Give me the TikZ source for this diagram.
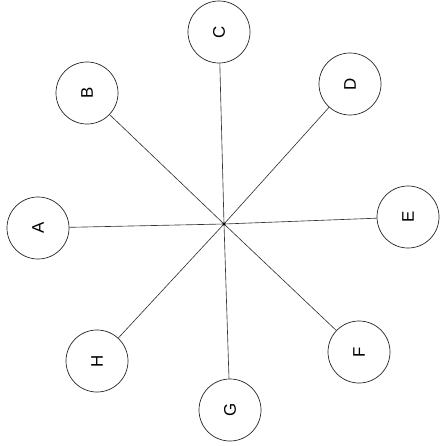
\documentclass[tikz,border=0pt]{standalone}
\usepackage{fontspec}
\setmainfont{Liberation Sans}
\usetikzlibrary{positioning}

\begin{document}
\begin{tikzpicture}[x=0.025cm, y=-0.025cm,
		leaf/.style={circle, draw=black!85, line width=0.5pt, minimum size=1.55cm, inner sep=0pt, font=\fontsize{12}{14}\selectfont, rotate=90},
		spoke/.style={draw=black!80, line width=0.45pt}]
		
		\useasboundingbox (0, 0) rectangle (444, 446);
		
		\coordinate (hub) at (224, 224);
		
		\node[leaf] (a) at (38, 228) {A};
		\node[leaf] (b) at (87, 93) {B};
		\node[leaf] (c) at (219, 32) {C};
		\node[leaf] (d) at (350, 84) {D};
		\node[leaf] (e) at (408, 217) {E};
		\node[leaf] (f) at (359, 352) {F};
		\node[leaf] (g) at (230, 410) {G};
		\node[leaf] (h) at (97, 361) {H};
		
		\draw[spoke] (hub) -- (a);
		\draw[spoke] (hub) -- (b);
		\draw[spoke] (hub) -- (c);
		\draw[spoke] (hub) -- (d);
		\draw[spoke] (hub) -- (e);
		\draw[spoke] (hub) -- (f);
		\draw[spoke] (hub) -- (g);
		\draw[spoke] (hub) -- (h);
		
		\fill (hub) circle (1.2pt);
		
	\end{tikzpicture}
\end{document}
